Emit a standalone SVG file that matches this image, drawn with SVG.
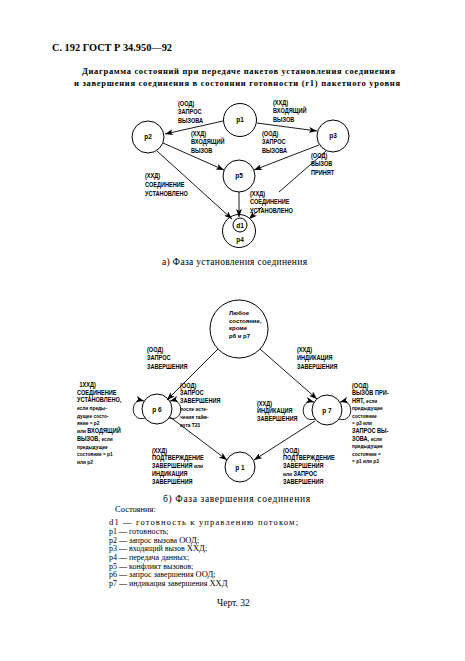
<svg xmlns="http://www.w3.org/2000/svg" width="465" height="661" viewBox="0 0 465 661">
<defs>
<marker id="ah" markerWidth="8" markerHeight="6" refX="8" refY="3" orient="auto" markerUnits="userSpaceOnUse"><path d="M0,0 L8,3 L0,6 L2,3 z" fill="#000"/></marker>
</defs>
<style>
.node circle{fill:#fff;stroke:#000;stroke-width:1}
.nt{font-family:"Liberation Sans",Arial,sans-serif;font-weight:bold;font-size:6.5px;text-anchor:middle;fill:#000}
.lbl text{font-family:"Liberation Sans",Arial,sans-serif;font-weight:bold;font-size:7px;fill:#000}
.sm{font-size:6px}
.conn path,.conn line{fill:none;stroke:#000;stroke-width:0.9}
.serif{font-family:"Liberation Serif","Times New Roman",serif;fill:#000}
</style>
<rect width="465" height="661" fill="#fff"/>

<text class="serif" x="52" y="51" font-size="11" font-weight="bold" textLength="120" lengthAdjust="spacingAndGlyphs">С. 192 ГОСТ Р 34.950—92</text>
<text class="serif" x="82" y="74" font-size="8.5" font-weight="bold" textLength="313" lengthAdjust="spacing">Диаграмма состояний при передаче пакетов установления соединения</text>
<text class="serif" x="74" y="86" font-size="8.5" font-weight="bold" textLength="326" lengthAdjust="spacing">и завершения соединения в состоянии готовности (r1) пакетного уровня</text>

<!-- Top diagram nodes -->
<g id="p1" class="node"><circle cx="240" cy="120" r="16.5"/><text class="nt" x="240" y="122">р1</text></g>
<g id="p2" class="node"><circle cx="148" cy="137" r="16"/><text class="nt" x="148" y="139">р2</text></g>
<g id="p3" class="node"><circle cx="333" cy="136" r="16"/><text class="nt" x="333" y="138">р3</text></g>
<g id="p5" class="node"><circle cx="239" cy="176" r="16"/><text class="nt" x="239" y="178">р5</text></g>
<g id="p4" class="node"><circle cx="239" cy="231" r="16.5"/><circle cx="240" cy="225" r="7"/><text class="nt" x="240" y="227.5">d1</text><text class="nt" x="240" y="242">р4</text></g>

<!-- Bottom diagram nodes -->
<g id="any" class="node"><circle cx="239" cy="329" r="29"/>
<text class="nt" style="text-anchor:start;font-size:6px"><tspan x="229" y="315">Любое</tspan><tspan x="229" y="322.5">состояние,</tspan><tspan x="229" y="330">кроме</tspan><tspan x="229" y="337.5">р6 и р7</tspan></text></g>
<g id="p6" class="node"><circle cx="157" cy="409" r="15"/><text class="nt" x="157" y="411.5">р 6</text></g>
<g id="p7" class="node"><circle cx="327" cy="410" r="15"/><text class="nt" x="327" y="412.5">р 7</text></g>
<g id="p1b" class="node"><circle cx="240" cy="467" r="15"/><text class="nt" x="240" y="469.5">р 1</text></g>

<!-- Connectors -->
<g id="connectors" class="conn">
<line x1="223" y1="121" x2="165" y2="134" marker-end="url(#ah)"/>
<line x1="257" y1="123" x2="317" y2="131" marker-end="url(#ah)"/>
<line x1="163" y1="143" x2="224" y2="170" marker-end="url(#ah)"/>
<line x1="319" y1="145" x2="254" y2="170" marker-end="url(#ah)"/>
<line x1="157" y1="151" x2="232" y2="219" marker-end="url(#ah)"/>
<line x1="239" y1="192" x2="239" y2="217" marker-end="url(#ah)"/>
<line x1="326" y1="151" x2="279" y2="192"/>
<line x1="262" y1="207" x2="249" y2="219" marker-end="url(#ah)"/>

<line x1="218" y1="349" x2="167" y2="400" marker-end="url(#ah)"/>
<line x1="260" y1="349" x2="317" y2="399" marker-end="url(#ah)"/>
<line x1="170" y1="417" x2="227" y2="460" marker-end="url(#ah)"/>
<line x1="315" y1="421" x2="254" y2="460" marker-end="url(#ah)"/>
<path d="M145,418 C130,423 129,397 144,401" marker-end="url(#ah)"/>
<path d="M169,418 C184,423 185,397 170,401" marker-end="url(#ah)"/>
<path d="M315,419 C300,424 299,398 314,402" marker-end="url(#ah)"/>
<path d="M339,419 C354,424 355,398 340,402" marker-end="url(#ah)"/>
</g>

<!-- Labels top -->
<g class="lbl" transform="translate(178,106) scale(0.8,1)"><text><tspan x="0" y="0">(ООД)</tspan><tspan x="0" y="8.5">ЗАПРОС</tspan><tspan x="0" y="17">ВЫЗОВА</tspan></text></g>
<g class="lbl" transform="translate(273,105) scale(0.8,1)"><text><tspan x="0" y="0">(ХХД)</tspan><tspan x="0" y="8.5">ВХОДЯЩИЙ</tspan><tspan x="0" y="17">ВЫЗОВ</tspan></text></g>
<g class="lbl" transform="translate(191,136) scale(0.8,1)"><text><tspan x="0" y="0">(ХХД)</tspan><tspan x="0" y="8.5">ВХОДЯЩИЙ</tspan><tspan x="0" y="17">ВЫЗОВ</tspan></text></g>
<g class="lbl" transform="translate(262,136) scale(0.8,1)"><text><tspan x="0" y="0">(ООД)</tspan><tspan x="0" y="8.5">ЗАПРОС</tspan><tspan x="0" y="17">ВЫЗОВА</tspan></text></g>
<g class="lbl" transform="translate(311,158) scale(0.8,1)"><text><tspan x="0" y="0">(ООД)</tspan><tspan x="0" y="8.5">ВЫЗОВ</tspan><tspan x="0" y="17">ПРИНЯТ</tspan></text></g>
<g class="lbl" transform="translate(145,178) scale(0.8,1)"><text><tspan x="0" y="0">(ХХД)</tspan><tspan x="0" y="9">СОЕДИНЕНИЕ</tspan><tspan x="0" y="18">УСТАНОВЛЕНО</tspan></text></g>
<g class="lbl" transform="translate(250,196) scale(0.8,1)"><text><tspan x="0" y="0">(ХХД)</tspan><tspan x="0" y="8.5">СОЕДИНЕНИЕ</tspan><tspan x="0" y="17">УСТАНОВЛЕНО</tspan></text></g>

<text class="serif" x="162" y="265" font-size="9.5" textLength="145" lengthAdjust="spacing">а) Фаза установления соединения</text>

<!-- Labels bottom -->
<g class="lbl" transform="translate(147,352) scale(0.8,1)"><text><tspan x="0" y="0">(ООД)</tspan><tspan x="0" y="8.5">ЗАПРОС</tspan><tspan x="0" y="17">ЗАВЕРШЕНИЯ</tspan></text></g>
<g class="lbl" transform="translate(297,352) scale(0.8,1)"><text><tspan x="0" y="0">(ХХД)</tspan><tspan x="0" y="8.5">ИНДИКАЦИЯ</tspan><tspan x="0" y="17">ЗАВЕРШЕНИЯ</tspan></text></g>
<g class="lbl" transform="translate(77,387) scale(0.8,1)"><text><tspan x="3" y="0">1ХХД)</tspan><tspan x="0" y="7.7">СОЕДИНЕНИЕ</tspan><tspan x="0" y="15.4">УСТАНОВЛЕНО,</tspan><tspan class="sm" x="0" y="23.1">если преды-</tspan><tspan class="sm" x="0" y="30.8">дущее состо-</tspan><tspan class="sm" x="0" y="38.5">яние  =  р2</tspan><tspan class="sm" x="0" y="46.2">или <tspan style="font-size:7px">ВХОДЯЩИЙ</tspan></tspan><tspan x="0" y="53.9">ВЫЗОВ, <tspan class="sm">если</tspan></tspan><tspan class="sm" x="0" y="61.6">предыдущее</tspan><tspan class="sm" x="0" y="69.3">состояние  = р1</tspan><tspan class="sm" x="0" y="77">или р2</tspan></text></g>
<g class="lbl" transform="translate(180,387.5) scale(0.8,1)"><text><tspan x="0" y="0">(ООД)</tspan><tspan x="0" y="8">ЗАПРОС</tspan><tspan x="0" y="16">ЗАВЕРШЕНИЯ</tspan><tspan class="sm" x="0" y="24">после исте-</tspan><tspan class="sm" x="0" y="32">чения тайм-</tspan><tspan class="sm" x="0" y="40">аута Т23</tspan></text></g>
<g class="lbl" transform="translate(152,452.5) scale(0.8,1)"><text><tspan x="0" y="0">(ХХД)</tspan><tspan x="0" y="8">ПОДТВЕРЖДЕНИЕ</tspan><tspan x="0" y="16">ЗАВЕРШЕНИЯ <tspan class="sm">или</tspan></tspan><tspan x="0" y="24">ИНДИКАЦИЯ</tspan><tspan x="0" y="32">ЗАВЕРШЕНИЯ</tspan></text></g>
<g class="lbl" transform="translate(257,405.5) scale(0.8,1)"><text><tspan x="0" y="0">(ХХД)</tspan><tspan x="0" y="7.7">ИНДИКАЦИЯ</tspan><tspan x="0" y="15.4">ЗАВЕРШЕНИЯ</tspan></text></g>
<g class="lbl" transform="translate(352,387.5) scale(0.8,1)"><text><tspan x="0" y="0">(ООД)</tspan><tspan x="0" y="7.6">ВЫЗОВ ПРИ-</tspan><tspan x="0" y="15.2">НЯТ, <tspan class="sm">если</tspan></tspan><tspan class="sm" x="0" y="22.8">предыдущее</tspan><tspan class="sm" x="0" y="30.4">состояние</tspan><tspan class="sm" x="0" y="38">= р3 или</tspan><tspan x="0" y="45.6">ЗАПРОС ВЫ-</tspan><tspan x="0" y="53.2">ЗОВА, <tspan class="sm">если</tspan></tspan><tspan class="sm" x="0" y="60.8">предыдущее</tspan><tspan class="sm" x="0" y="68.4">состояние =</tspan><tspan class="sm" x="0" y="76">= р1 или р3</tspan></text></g>
<g class="lbl" transform="translate(283,452.5) scale(0.8,1)"><text><tspan x="0" y="0">(ООД)</tspan><tspan x="0" y="8">ПОДТВЕРЖДЕНИЕ</tspan><tspan x="0" y="16">ЗАВЕРШЕНИЯ</tspan><tspan x="0" y="24"><tspan class="sm">или</tspan> ЗАПРОС</tspan><tspan x="0" y="32">ЗАВЕРШЕНИЯ</tspan></text></g>

<text class="serif" x="163" y="502" font-size="9.5" textLength="147" lengthAdjust="spacing">б) Фаза завершения соединения</text>

<g class="serif" font-size="8">
<text x="115" y="512" font-size="8.5">Состояния:</text>
<text x="109" y="525" font-size="8.5" textLength="189" lengthAdjust="spacing">d1 — готовность к управлению потоком;</text>
<text x="109" y="533.8">р1 — готовность;</text>
<text x="109" y="542.5">р2 — запрос вызова <tspan font-size="8.5">ООД</tspan>;</text>
<text x="109" y="551.2">р3 — входящий вызов <tspan font-size="8.5">ХХД</tspan>;</text>
<text x="109" y="559.9">р4 — передача данных;</text>
<text x="109" y="568.6">р5 — конфликт вызовов;</text>
<text x="109" y="577.3">р6 — запрос завершения <tspan font-size="8.5">ООД</tspan>;</text>
<text x="109" y="586">р7 — индикация завершения <tspan font-size="8.5">ХХД</tspan></text>
<text x="217" y="606" font-size="9.5">Черт. 32</text>
</g>
</svg>
